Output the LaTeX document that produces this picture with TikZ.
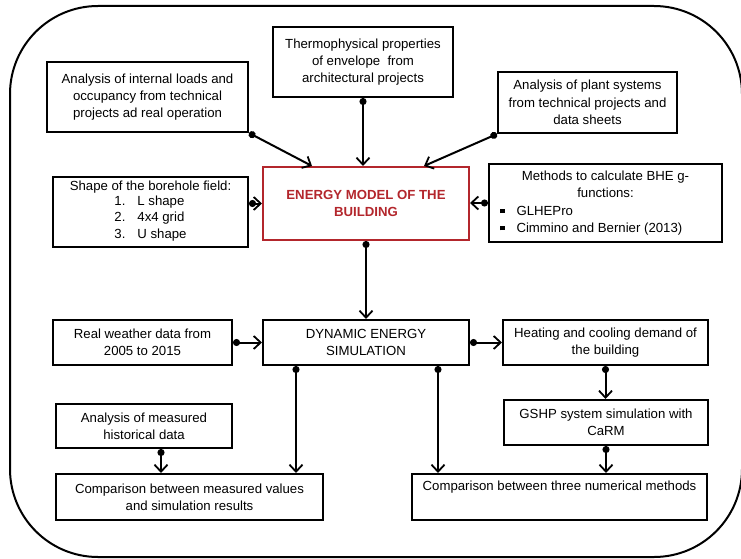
\documentclass[tikz,border=0pt]{standalone}
\usepackage{fontspec}
\setmainfont{Liberation Sans}
\usetikzlibrary{arrows.meta,calc}
\definecolor{dred}{HTML}{B3262C}
\newcommand{\sqbul}{\hspace*{8pt}\rule[2pt]{4.5pt}{4.5pt}\hspace{12pt}}
\begin{document}
\begin{tikzpicture}[x=1pt,y=-1pt,
  box/.style={draw,line width=2pt,inner sep=0pt,align=center,font=\fontsize{13.2}{17.3}\selectfont},
  conn/.style={line width=2pt,{Circle[length=7pt]}-{Straight Barb[length=7pt,width=13pt,line width=1.8pt]}}]
\useasboundingbox (0,0) rectangle (741,559);
\draw[line width=2pt,rounded corners=88pt] (10,6) rectangle (742,557);
\node[box,minimum width=180pt,minimum height=70pt] (thermo) at (363,62) {Thermophysical properties\\of envelope\ \ from\\architectural projects};
\node[box,minimum width=201pt,minimum height=70pt] (loads) at (147.5,97) {Analysis of internal loads and\\occupancy from technical\\projects ad real operation};
\node[box,minimum width=179pt,minimum height=61pt] (plant) at (587.5,102.5) {Analysis of plant systems\\from technical projects and\\data sheets};
\node[box,draw=dred,text=dred,font=\fontsize{13.2}{17.3}\selectfont\bfseries,minimum width=206pt,minimum height=73pt] (model) at (366,203.5) {ENERGY MODEL OF THE\\BUILDING};
\node[box,font=\fontsize{13.2}{16.3}\selectfont,minimum width=195pt,minimum height=70pt] (bore) at (150.5,212) {Shape of the borehole field:\\
  \begin{tabular}{@{}r@{\hspace{12pt}}l@{}}1.&L shape\\2.&4x4 grid\\3.&U shape\end{tabular}};
\node[box,minimum width=233pt,minimum height=78pt] (methods) at (605.5,203) {\begin{minipage}{227pt}\fontsize{13.2}{17.3}\selectfont
  \centering Methods to calculate BHE g-\\functions:\par
  \raggedright \sqbul GLHEPro\\\sqbul Cimmino and Bernier (2013)\par\end{minipage}};
\node[box,minimum width=179pt,minimum height=45pt] (weather) at (142.5,342.5) {Real weather data from\\2005 to 2015};
\node[box,minimum width=206pt,minimum height=45pt] (dyn) at (366,342.5) {DYNAMIC ENERGY\\SIMULATION};
\node[box,minimum width=205pt,minimum height=45pt] (heat) at (605.5,342.5) {Heating and cooling demand of\\the building};
\node[box,minimum width=204pt,minimum height=45pt] (gshp) at (606,422.5) {GSHP system simulation with\\CaRM};
\node[box,minimum width=176pt,minimum height=44pt] (meas) at (144,426) {Analysis of measured\\historical data};
\node[box,minimum width=267pt,minimum height=46pt] (cmp1) at (189.5,497) {Comparison between measured values\\and simulation results};
\node[box,minimum width=295pt,minimum height=46pt] (cmp3) at (559.5,497) {Comparison between three numerical methods\\\strut};
\draw[conn] (loads.south east) -- ([xshift=50pt]model.north west);
\draw[conn] (thermo.south) -- (thermo.south |- model.north);
\draw[conn] (plant.south west) -- ([xshift=-46pt]model.north east);
\draw[conn] (model.west -| bore.east) -- (model.west);
\draw[conn] (methods.west) -- (methods.west -| model.east);
\draw[conn] (model.south) -- (dyn.north);
\draw[conn] (weather.east) -- (weather.east -| dyn.west);
\draw[conn] (dyn.east) -- (heat.west);
\coordinate (d1) at ([xshift=34pt]dyn.south west);
\coordinate (d2) at ([xshift=-32pt]dyn.south east);
\draw[conn] (d1) -- (d1 |- cmp1.north);
\draw[conn] (d2) -- (d2 |- cmp3.north);
\draw[conn] (heat.south) -- (heat.south |- gshp.north);
\draw[conn] (gshp.south) -- (gshp.south |- cmp3.north);
\coordinate (m1) at ([xshift=17pt]meas.south);
\draw[conn] (m1) -- (m1 |- cmp1.north);
\end{tikzpicture}
\end{document}
